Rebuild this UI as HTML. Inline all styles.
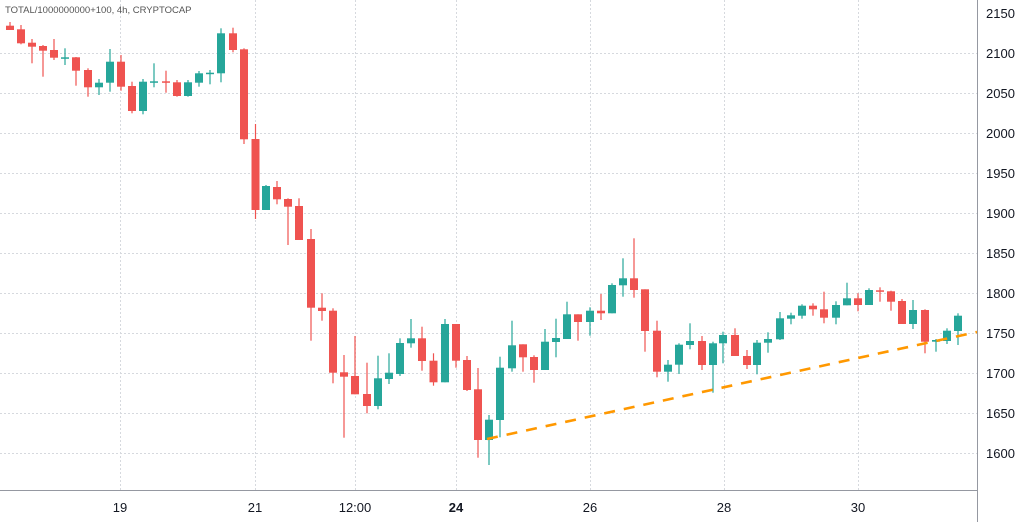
<!DOCTYPE html>
<html><head><meta charset="utf-8"><style>
html,body{margin:0;padding:0;background:#fff;}
svg{display:block;font-family:"Liberation Sans",sans-serif;}
</style></head><body>
<svg id="s" width="1024" height="522" viewBox="0 0 1024 522" xmlns="http://www.w3.org/2000/svg">
<g stroke="#d6d9de" stroke-width="1" stroke-dasharray="2,2" id="grid"></g>
<g id="c"></g>
<line x1="487" y1="439" x2="977" y2="332" stroke="#ff9800" stroke-width="2.6" stroke-dasharray="11,9"/>
<line x1="977.5" y1="0" x2="977.5" y2="522" stroke="#9598a1" stroke-width="1"/>
<line x1="0" y1="490.5" x2="977" y2="490.5" stroke="#9598a1" stroke-width="1"/>
<text x="5" y="13" font-size="9.5" fill="#555">TOTAL/1000000000+100, 4h, CRYPTOCAP</text>
<g font-size="13" fill="#131722" id="yl"></g>
<g font-size="13" fill="#131722" text-anchor="middle">
<text x="120" y="512">19</text><text x="255" y="512">21</text><text x="355" y="512">12:00</text>
<text x="456" y="512" font-weight="bold">24</text><text x="590" y="512">26</text><text x="724" y="512">28</text><text x="858" y="512">30</text>
</g>
</svg>
<script>
var NS="http://www.w3.org/2000/svg";
function el(p,t,a){var e=document.createElementNS(NS,t);for(var k in a)e.setAttribute(k,a[k]);p.appendChild(e);return e;}
var g=document.getElementById('grid'),yl=document.getElementById('yl');
for(var i=0;i<=11;i++){var p=2150-50*i,y=13+40*i;
 if(i>0)el(g,'line',{x1:0,y1:y+.5,x2:977,y2:y+.5});
 var t=el(yl,'text',{x:986,y:y+5});t.textContent=p;}
[120,255,355,456,590,724,858].forEach(function(x){el(g,'line',{x1:x+.5,y1:0,x2:x+.5,y2:490});});
var d=[
[10,'r',25.7,30,22,30],[21,'r',29.3,43.3,25,44.3],[32,'r',42.7,46.7,39,63.3],[43,'r',46,50.7,45,76.7],
[54,'r',50,57.7,39,60],[65,'g',57.3,58.3,48.3,65],[76,'r',57.3,70.7,57,85.7],[88,'r',70,87.3,68.3,96.7],
[99,'g',82.7,87.3,79,95],[110,'g',61.7,82.7,49,91.7],[121,'r',61.7,86.7,55,90.7],[132,'r',86,111,81.7,113.3],
[143,'g',81.7,111,79,114.3],[154,'g',81.3,82.5,63.3,87.3],[166,'r',81.3,82.7,70.7,92.7],[177,'r',82.3,96,80,96.7],
[188,'g',82.3,96,80,96.7],[199,'g',73.3,82.7,71,86.7],[210,'g',72.7,73.9,70,84.3],[221,'g',33.3,73.3,28.3,82.3],
[233,'r',33.3,50,27.7,52.3],[244,'r',49.3,139.3,48.3,144],[255.5,'r',139,210,124,219],[266,'g',186,210,185,210],
[277,'r',187,199.3,181,204.3],[288,'r',199,206.7,198.3,245],[299,'r',206,240,198.3,240],[311,'r',239,307.7,229,340.7],
[322,'r',307.7,311,293.3,320.7],[333,'r',310.7,372.7,308.3,383.3],[344,'r',372.3,376.7,355,437.7],[355,'r',376,394.3,336,394.3],
[367,'r',394,406,362.7,413.3],[378,'g',378.3,406,355.7,409.3],[389,'g',372.7,379,353.3,384],[400,'g',343,374,338.3,376],
[411,'g',338.3,343.3,319,347.7],[422,'r',338.3,361,326.7,370.7],[433.5,'r',360.7,382.3,353.3,385.7],[445,'g',324,382.3,319,382.3],
[456,'r',324,360.7,324,367.7],[467,'r',360,390,356,391],[478,'r',389.3,440,368,457.7],[489,'g',419.7,440,415,465],
[500,'g',367.7,420,356.7,437.3],[512,'g',345.3,368.3,320.7,371.7],[523,'r',344.3,357.3,344.3,371.7],[534,'r',357,370,355.3,382.7],
[545,'g',341.7,370,329,370],[556,'g',338,342,318.7,357.3],[567,'g',314.3,339,301.7,339],[578,'r',314.3,322,314.3,340.7],
[590,'g',310.7,322,307.3,335.7],[601,'r',310.7,313.3,294,320],[612,'g',285,313.3,283.3,313.3],[623,'g',278.3,285.3,258.3,296.7],
[634,'r',278.3,290,238.3,297.7],[645,'r',289.3,331,289.3,351.7],[657,'r',330.7,371.7,320.7,377.3],[668,'g',364.7,371.7,360,381.7],
[679,'g',344.7,364.7,343.3,374],[690,'g',341,345,323.3,349.3],[702,'r',341,365,336,370],[713,'g',343.3,365,341.7,392.7],
[723,'g',335,343.3,331.7,363.3],[735,'r',335,356,328.3,356],[747,'r',356,365,350,369],[757,'g',342.7,365,340,374.3],
[768,'g',339,342.7,332.3,352.7],[780,'g',318.3,339.3,312,340],[791,'g',315.3,318.7,312.7,324.3],[802,'g',305.7,315.7,304.3,318.7],
[813,'r',305.7,309.3,303.3,315.7],[824,'r',309.3,317.7,291.7,323.3],[836,'g',305,317.7,301.3,324.3],[847,'g',298.3,305.3,282.7,305.3],
[858,'r',298.3,305,293.3,311.3],[869,'g',290,305,288.3,305],[880,'r',290.3,291.7,287.3,301.7],[891,'r',291.3,301.7,290.7,310.7],
[902,'r',301,324,299,324],[913,'g',310,324,300,329],[925,'r',310,341.7,309.3,353.3],[936,'g',340,341.7,339,351.7],
[947,'g',330.7,341,328.3,344],[958,'g',315.7,331,313.3,345]];
var c=document.getElementById('c');
d.forEach(function(a){var col=a[1]=='g'?'#26a69a':'#ef5350';
 el(c,'line',{x1:a[0],y1:a[4],x2:a[0],y2:a[5],stroke:col,'stroke-width':1.2});
 el(c,'rect',{x:a[0]-4,y:a[2],width:8,height:Math.max(1.5,a[3]-a[2]),fill:col});});
</script>
</body></html>
